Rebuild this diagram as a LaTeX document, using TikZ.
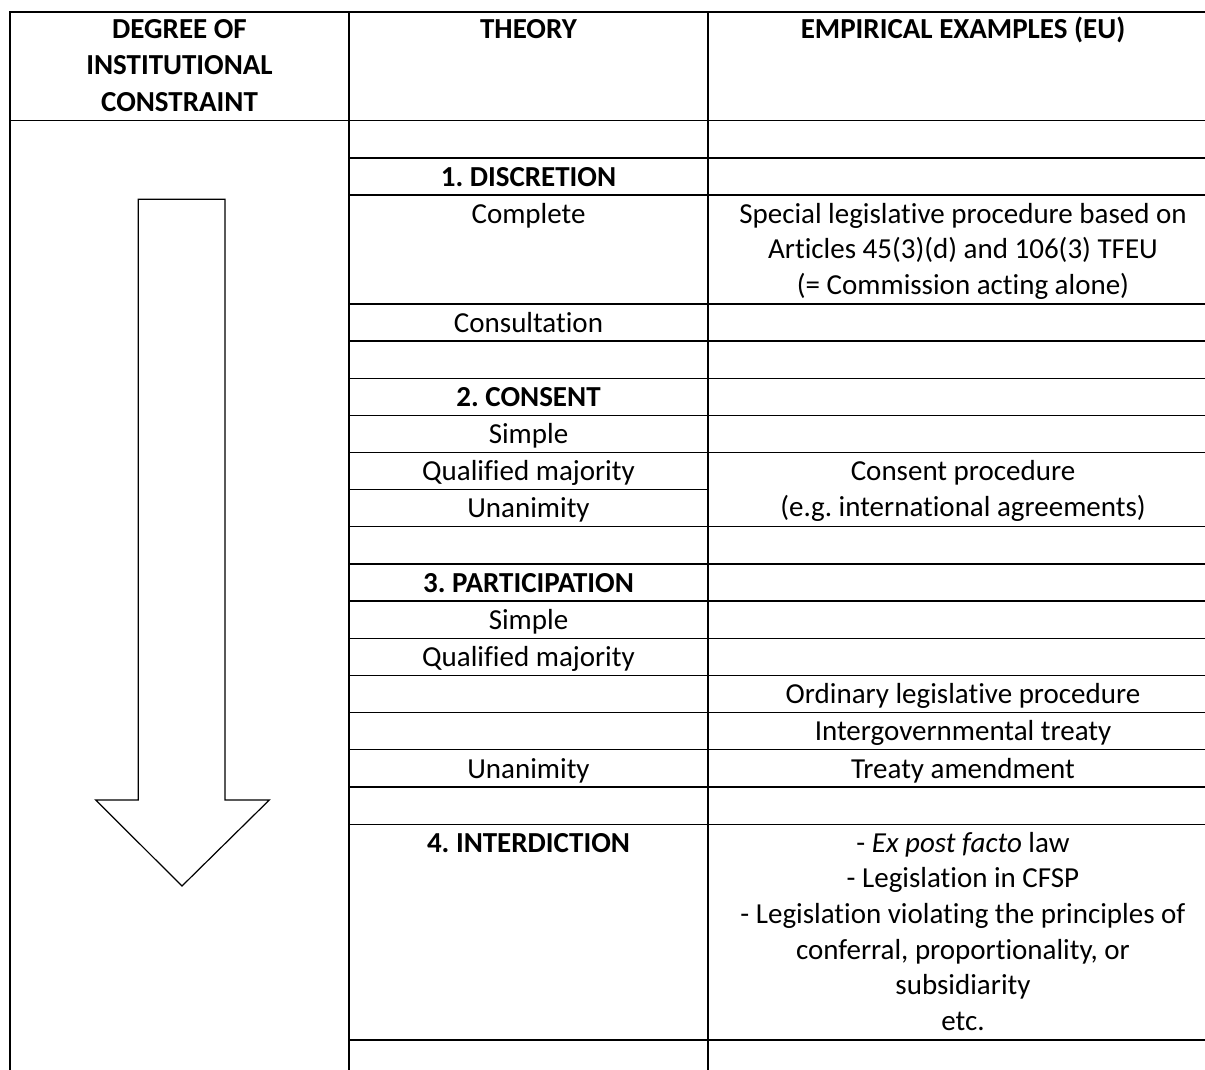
\documentclass[tikz,border=0pt]{standalone}
\usepackage{fontspec}
\setmainfont{Carlito}[Ligatures={NoCommon}]
\frenchspacing
\begin{document}
\begin{tikzpicture}[x=1pt,y=-1pt,
  rule/.style={line width=1.3pt, line cap=rect},
  txt/.style={anchor=base, inner sep=0pt, align=center, font=\fontsize{29}{35.7}\selectfont\frenchspacing},
  hd/.style={anchor=base, inner sep=0pt, align=center, font=\fontsize{29}{36.5}\selectfont\bfseries\frenchspacing},
  bigarrow/.style={draw, line width=1.2pt, fill=white, line join=miter}]
\useasboundingbox (0,0) rectangle (1205,1070);

% grid
\draw[rule] (10,12) -- (1205,12);
\draw[rule] (10,120.7) -- (1205,120.7);
\draw[rule] (10,12) -- (10,1075);
\draw[rule] (349,12) -- (349,1075);
\draw[rule] (708,12) -- (708,1075);
\foreach \yy in {158,195,304,341,378.3,415.3,452.3,526.7,564,601,638.3,675.3,712.3,749.7,787,824.3,1040}
  \draw[rule] (349,\yy) -- (1210,\yy);
\draw[rule] (349,489.3) -- (708,489.3);

% arrow
\draw[bigarrow] (138.3,199.3) -- (225,199.3) -- (225,800) -- (269.3,800) -- (182,886) -- (95.7,800) -- (138.3,800) -- cycle;

% header (base anchor = baseline of last line)
\node[hd] (h1) at (179.5,111.3) {DEGREE OF\\INSTITUTIONAL\\CONSTRAINT};
\node[hd] (h2) at (528.5,38.3) {THEORY};
\node[hd] (h3) at (963,38.3) {EMPIRICAL EXAMPLES (EU)};

% body
\node[hd] (disc) at (528.5,186) {1. DISCRETION};
\node[txt] (compl) at (528.5,223) {Complete};
\node[txt] (spec) at (963,294.4) {Special legislative procedure based on\\Articles 45(3)(d) and 106(3) TFEU\\(= Commission acting alone)};
\node[txt] (consult) at (528.5,332) {Consultation};
\node[hd] (cons) at (528.5,406) {2. CONSENT};
\node[txt] (s1) at (528.5,443) {Simple};
\node[txt] (q1) at (528.5,480) {Qualified majority};
\node[txt] (consproc) at (963,516.2) {Consent procedure\\(e.g. international agreements)};
\node[txt] (u1) at (528.5,517) {Unanimity};
\node[hd] (part) at (528.5,592) {3. PARTICIPATION};
\node[txt] (s2) at (528.5,629) {Simple};
\node[txt] (q2) at (528.5,666) {Qualified majority};
\node[txt] (olp) at (963,703) {Ordinary legislative procedure};
\node[txt] (igt) at (963,740) {Intergovernmental treaty};
\node[txt] (u2) at (528.5,778) {Unanimity};
\node[txt] (ta) at (963,778) {Treaty amendment};
\node[hd] (inter) at (528.5,852) {4. INTERDICTION};
\node[txt] (list) at (963,1030.5) {- \textit{Ex post facto} law\\- Legislation in CFSP\\- Legislation violating the principles of\\conferral, proportionality, or\\subsidiarity\\etc.};
\end{tikzpicture}
\end{document}
